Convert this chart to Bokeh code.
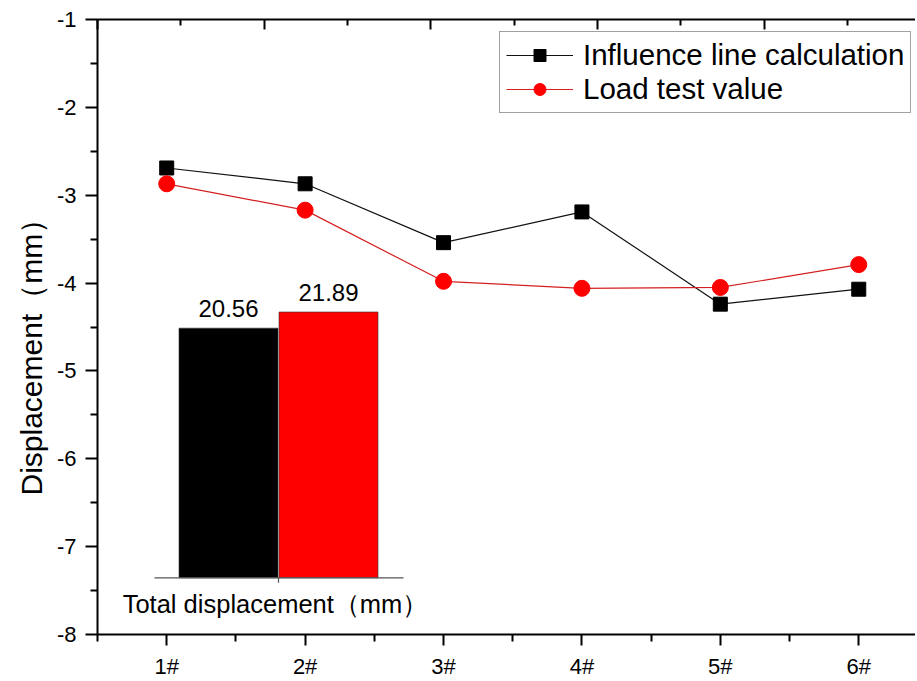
from bokeh.plotting import figure
from bokeh.models import Range1d, LinearAxis, FixedTicker, Legend, LegendItem, Title
from bokeh.core.properties import value
from bokeh.embed import file_html
from bokeh.resources import INLINE

# ---- data ----
categories = ["1#", "2#", "3#", "4#", "5#", "6#"]
positions = [1, 2, 3, 4, 5, 6]
influence_line = [-2.69, -2.87, -3.54, -3.19, -4.24, -4.07]
load_test = [-2.87, -3.17, -3.98, -4.06, -4.05, -3.79]
series_names = ["Influence line calculation", "Load test value"]
total_values = [20.56, 21.89]
total_labels = ["20.56", "21.89"]
total_pos = [1, 2]
total_colors = ["#000000", "#ff0000"]
y_ticks = [-8, -7, -6, -5, -4, -3, -2, -1]
inset_caption = "Total displacement（mm）"
y_title = "Displacement（mm）"

FONT = "Liberation Sans"

p = figure(width=915, height=681,
           x_range=Range1d(0.5, 6.41), y_range=Range1d(-8, -1),
           output_backend="svg", toolbar_location=None,
           min_border_left=97, min_border_top=19, min_border_bottom=44,
           min_border_right=0)
p.outline_line_color = None
p.grid.visible = False
p.background_fill_color = "white"
p.border_fill_color = "white"

p.extra_x_ranges = {"top": Range1d(0, 4.907), "bx": Range1d(-0.31, 7.87)}
p.extra_y_ranges = {"by": Range1d(-4.67, 45.98)}

# bottom axis
xa = p.xaxis[0]
xa.ticker = FixedTicker(ticks=positions, minor_ticks=[0.5 + i for i in range(7)])
xa.major_label_overrides = {pos: cat for pos, cat in zip(positions, categories)}
xa.axis_line_width = 2
xa.major_tick_line_width = 2
xa.minor_tick_line_width = 2
xa.major_tick_out = 11
xa.major_tick_in = 0
xa.minor_tick_out = 7
xa.minor_tick_in = 0
xa.major_label_standoff = 8
xa.major_label_text_font = FONT
xa.major_label_text_font_size = "22px"
xa.major_label_text_color = "black"

# left axis
ya = p.yaxis[0]
ya.ticker = FixedTicker(ticks=y_ticks, minor_ticks=[t + 0.5 for t in y_ticks[:-1]])
ya.major_label_overrides = {t: str(t) for t in y_ticks}
ya.axis_line_width = 2
ya.major_tick_line_width = 2
ya.minor_tick_line_width = 2
ya.major_tick_out = 12
ya.major_tick_in = 0
ya.minor_tick_out = 7
ya.minor_tick_in = 0
ya.major_label_standoff = 9
ya.major_label_text_font = FONT
ya.major_label_text_font_size = "22px"
ya.major_label_text_color = "black"

# y axis title, placed like the reference (starts ~139px above frame bottom)
p.add_layout(Title(text=y_title, align="left", offset=139,
                   vertical_align="middle",
                   text_font=FONT, text_font_size="30px",
                   text_font_style="normal", text_color="black",
                   standoff=10), "left")

# top axis (ticks only)
top_ticks = [0, 1, 2, 3, 4]
ta = LinearAxis(x_range_name="top",
                ticker=FixedTicker(ticks=top_ticks, minor_ticks=[t + 0.5 for t in top_ticks]),
                major_label_overrides={t: "" for t in top_ticks},
                major_label_text_font_size="1px",
                axis_line_width=2, major_tick_line_width=2, minor_tick_line_width=2,
                major_tick_in=10, major_tick_out=0, minor_tick_in=6, minor_tick_out=0,
                major_label_standoff=0)
p.add_layout(ta, "above")

# main series
l1 = p.line(positions, influence_line, line_color="#111111", line_width=1.2)
m1 = p.scatter(positions, influence_line, marker="square", size=14,
               fill_color="black", line_color="black")
l2 = p.line(positions, load_test, line_color="#d42020", line_width=1.2)
m2 = p.scatter(positions, load_test, marker="circle", size=16,
               fill_color="#ff0000", line_color="#ff0000")

# inset bar chart
p.vbar(x=total_pos, top=total_values, bottom=0, width=0.99,
       fill_color=total_colors, line_color="#333333", line_width=0.6,
       x_range_name="bx", y_range_name="by")
p.text(x=total_pos, y=total_values, text=total_labels,
       x_range_name="bx", y_range_name="by",
       text_align="center", text_baseline="alphabetic", y_offset=-20,
       text_font=value(FONT), text_font_size="24px", text_color="black")
base_left = total_pos[0] - 0.74
base_right = total_pos[-1] + 0.75
base_mid = sum(total_pos) / len(total_pos)
p.segment(x0=[base_left], y0=[0], x1=[base_right], y1=[0],
          line_color="#555555", line_width=1.2,
          x_range_name="bx", y_range_name="by")
p.segment(x0=[base_mid], y0=[0], x1=[base_mid], y1=[-0.4],
          line_color="#555555", line_width=1.2,
          x_range_name="bx", y_range_name="by")
p.text(x=[base_mid - 0.03], y=[0], text=[inset_caption],
       x_range_name="bx", y_range_name="by",
       text_align="center", text_baseline="alphabetic", y_offset=26,
       text_font=value(FONT), text_font_size="25.5px", text_color="black")

legend = Legend(items=[LegendItem(label=series_names[0], renderers=[l1, m1]),
                       LegendItem(label=series_names[1], renderers=[l2, m2])],
                location=(402, 521))
legend.label_text_font = FONT
legend.label_text_font_size = "29.5px"
legend.label_text_color = "black"
legend.glyph_width = 67
legend.glyph_height = 30
legend.label_height = 30
legend.label_standoff = 10
legend.padding = 6
legend.spacing = 0
legend.margin = 0
legend.border_line_color = "#444444"
legend.border_line_width = 1.5
legend.background_fill_color = "white"
legend.background_fill_alpha = 1.0
p.add_layout(legend)

open("out.html", "w").write(file_html(p, INLINE))
